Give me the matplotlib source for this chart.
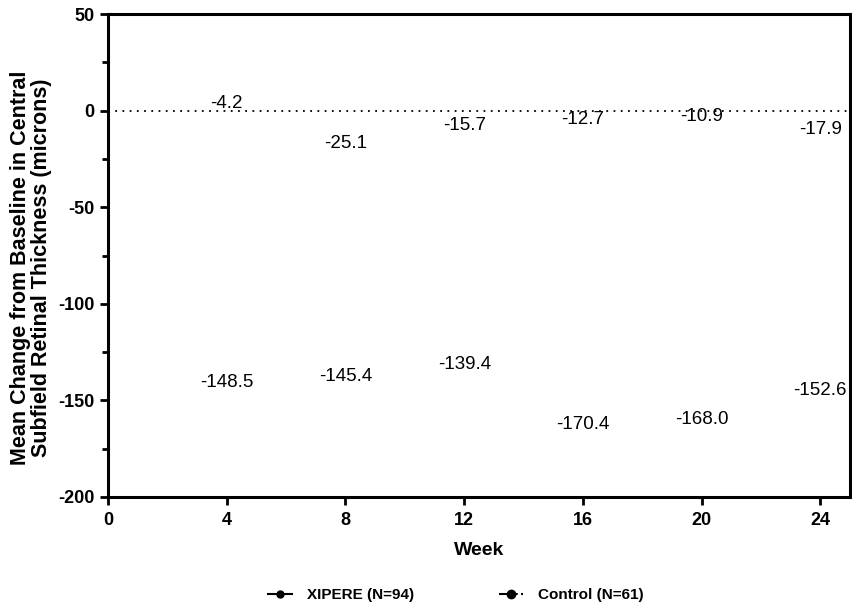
import matplotlib.pyplot as plt
from matplotlib.lines import Line2D
from matplotlib.ticker import MultipleLocator

plt.rcParams["font.family"] = ["Liberation Sans", "DejaVu Sans"]
plt.rcParams["axes.unicode_minus"] = False

weeks = [4, 8, 12, 16, 20, 24]
xipere = [-148.5, -145.4, -139.4, -170.4, -168.0, -152.6]
control = [-4.2, -25.1, -15.7, -12.7, -10.9, -17.9]
xipere_label = "XIPERE (N=94)"
control_label = "Control (N=61)"

fig = plt.figure(figsize=(8.52, 6.12), dpi=100)
ax = fig.add_axes([0.1268, 0.188, 0.8709, 0.789])

# reference line at zero change
ax.axhline(0, color="black", ls=(0, (1, 3)), lw=1.3, zorder=1)

# value labels only (no connecting lines shown in the source figure)
for series in (control, xipere):
    for w, v in zip(weeks, series):
        ax.annotate(f"{v:.1f}", (w, v), xytext=(0, 11), textcoords="offset points",
                    ha="center", va="center", fontsize=13.5, color="black")

ax.set_xlim(0, 25)
ax.set_ylim(-200, 50)
ax.set_xticks([0, 4, 8, 12, 16, 20, 24])
ax.yaxis.set_major_locator(MultipleLocator(50))
ax.yaxis.set_minor_locator(MultipleLocator(25))

for s in ax.spines.values():
    s.set_linewidth(2.2)
ax.tick_params(which="major", direction="out", length=6, width=2, labelsize=13, pad=4)
ax.tick_params(axis="x", pad=5)
ax.tick_params(which="minor", direction="out", length=4, width=2)
for lbl in ax.get_xticklabels() + ax.get_yticklabels():
    lbl.set_fontweight("bold")

ax.set_xlabel("Week", fontsize=14, fontweight="bold", labelpad=9)
ax.set_ylabel("Mean Change from Baseline in Central\nSubfield Retinal Thickness (microns)",
              fontsize=15.5, fontweight="bold", labelpad=4, linespacing=1.0)
ax.yaxis.label.set_y(0.474)

handles = [
    Line2D([], [], color="black", lw=1.5, marker="o", markersize=5),
    Line2D([], [], color="black", lw=1.5, ls="-.", marker="o", markersize=6),
]
fig.legend(handles, [xipere_label, control_label], loc="center",
           bbox_to_anchor=(0.535, 0.028), ncol=2, frameon=False,
           prop={"weight": "bold", "size": 11},
           columnspacing=5.5, handlelength=1.6, handletextpad=1.0)

fig.savefig("out.png", dpi=100)
